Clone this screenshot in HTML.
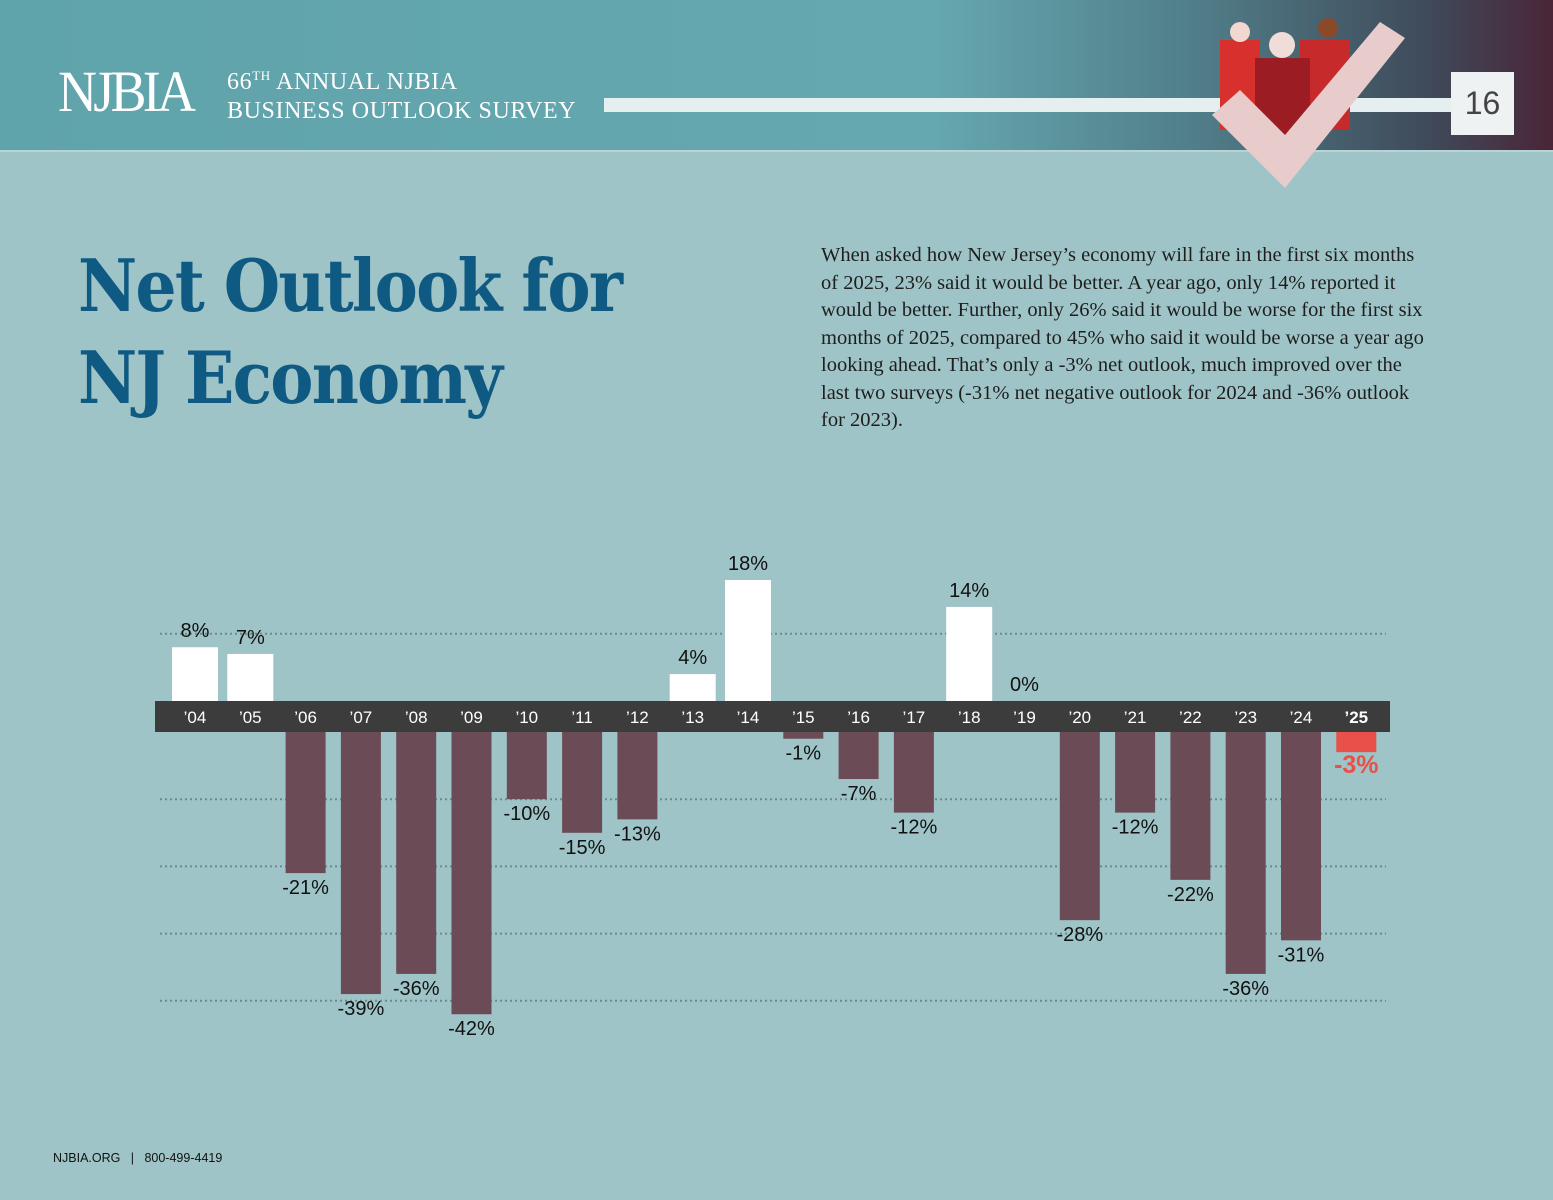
<!DOCTYPE html>
<html><head><meta charset="utf-8"><style>
body{margin:0;width:1553px;height:1200px;overflow:hidden;background:#9ec4c7;font-family:"Liberation Sans",sans-serif;position:relative}
.hdr{position:absolute;left:0;top:0;width:1553px;height:150px;background:linear-gradient(90deg,#5fa3ab 0%,#66a8b0 60%,#4f7b86 78%,#3f4a5a 92%,#4a2538 100%);border-bottom:2px solid #b7d3d6}
.abs{position:absolute}
</style></head><body>
<div class="hdr"></div>
<div class="abs" style="left:58px;top:58px;font-family:'Liberation Serif',serif;font-size:58px;color:#fff;letter-spacing:-4px;transform:scaleX(0.93);transform-origin:left">NJBIA</div>
<div class="abs" style="left:227px;top:61px;font-family:'Liberation Serif',serif;font-size:24px;line-height:29px;color:#fff;letter-spacing:0.6px">66<sup style="font-size:13px">TH</sup> ANNUAL NJBIA<br>BUSINESS OUTLOOK SURVEY</div>
<div class="abs" style="left:604px;top:98px;width:850px;height:14px;background:#e6eff0"></div>
<svg class="abs" style="left:1200px;top:10px" width="220" height="180">
<rect x="20" y="30" width="40" height="90" fill="#d8302c"/><circle cx="40" cy="22" r="10" fill="#f2d6d0"/>
<rect x="100" y="30" width="50" height="90" fill="#c72a2a"/><circle cx="128" cy="18" r="10" fill="#8a4a2a"/>
<rect x="55" y="48" width="55" height="90" fill="#9b1c22"/><circle cx="82" cy="35" r="13" fill="#f0dcd8"/>
<polygon points="12,105 40,80 85,125 180,12 205,28 85,178" fill="#e8cccc"/>
</svg>
<div class="abs" style="left:1451px;top:72px;width:63px;height:63px;background:#eef2f3;color:#444;font-size:32px;text-align:center;line-height:63px">16</div>
<div class="abs" style="left:78px;top:240px;font-family:'DejaVu Serif','Liberation Serif',serif;font-weight:bold;font-size:72px;line-height:92px;color:#0f5a82;letter-spacing:-2px;transform:scaleX(0.9);transform-origin:left;white-space:nowrap">Net Outlook for<br>NJ Economy</div>
<div class="abs" style="left:821px;top:242px;width:610px;font-family:'Liberation Serif',serif;font-size:20.5px;line-height:27.5px;color:#1e1e1e">When asked how New Jersey’s economy will fare in the first six months of 2025, 23% said it would be better. A year ago, only 14% reported it would be better. Further, only 26% said it would be worse for the first six months of 2025, compared to 45% who said it would be worse a year ago looking ahead. That’s only a -3% net outlook, much improved over the last two surveys (-31% net negative outlook for 2024 and -36% outlook for 2023).</div>
<svg class="abs" style="left:0;top:0" width="1553" height="1200" id="chart"></svg>
<div class="abs" style="left:53px;top:1151px;font-size:12.5px;color:#111">NJBIA.ORG &nbsp;&nbsp;|&nbsp;&nbsp; 800-499-4419</div>
<script>
const years=["’04","’05","’06","’07","’08","’09","’10","’11","’12","’13","’14","’15","’16","’17","’18","’19","’20","’21","’22","’23","’24","’25"];
const values=[8,7,-21,-39,-36,-42,-10,-15,-13,4,18,-1,-7,-12,14,0,-28,-12,-22,-36,-31,-3];
const gridTicks=[10,-10,-20,-30,-40];
const NS="http://www.w3.org/2000/svg",svg=document.getElementById('chart');
const axTop=701,axBot=732,ppu=6.72;
function x(i){return 195+i*55.3;}
function y(v){return v>=0?axTop-v*ppu:axBot-v*ppu;}
function mk(t,a){const e=document.createElementNS(NS,t);for(const k in a)e.setAttribute(k,a[k]);svg.appendChild(e);return e;}
gridTicks.forEach(g=>{const l=mk('line',{x1:160,x2:1386,y1:y(g),y2:y(g),stroke:'#6a8a8e','stroke-width':2,'stroke-dasharray':'2 3'});

});
const band=mk('rect',{x:155,y:axTop,width:1235,height:axBot-axTop,fill:'#3c3c3c'});


values.forEach((v,i)=>{
 const last=i===values.length-1;
 const w=v>=0?46:40;
 let r;
 if(v>=0){r=mk('rect',{x:x(i)-w/2,y:y(v),width:w,height:v*ppu,fill:'#fff'});}
 else{r=mk('rect',{x:x(i)-w/2,y:axBot,width:w,height:-v*ppu,fill:last?'#e8504a':'#6b4b55'});}
 
 
 const t=mk('text',{x:x(i),y:v>=0?y(v)-10:y(v)+21,'text-anchor':'middle','font-size':last?25:20,'font-weight':last?'bold':'normal',fill:last?'#e8504a':'#111'});
 t.textContent=v+'%';
 
 
 const yl=mk('text',{x:x(i),y:723,'text-anchor':'middle','font-size':17,'font-weight':last?'bold':'normal',fill:'#fff'});
 yl.textContent=years[i];
 
 
});
</script>
</body></html>
